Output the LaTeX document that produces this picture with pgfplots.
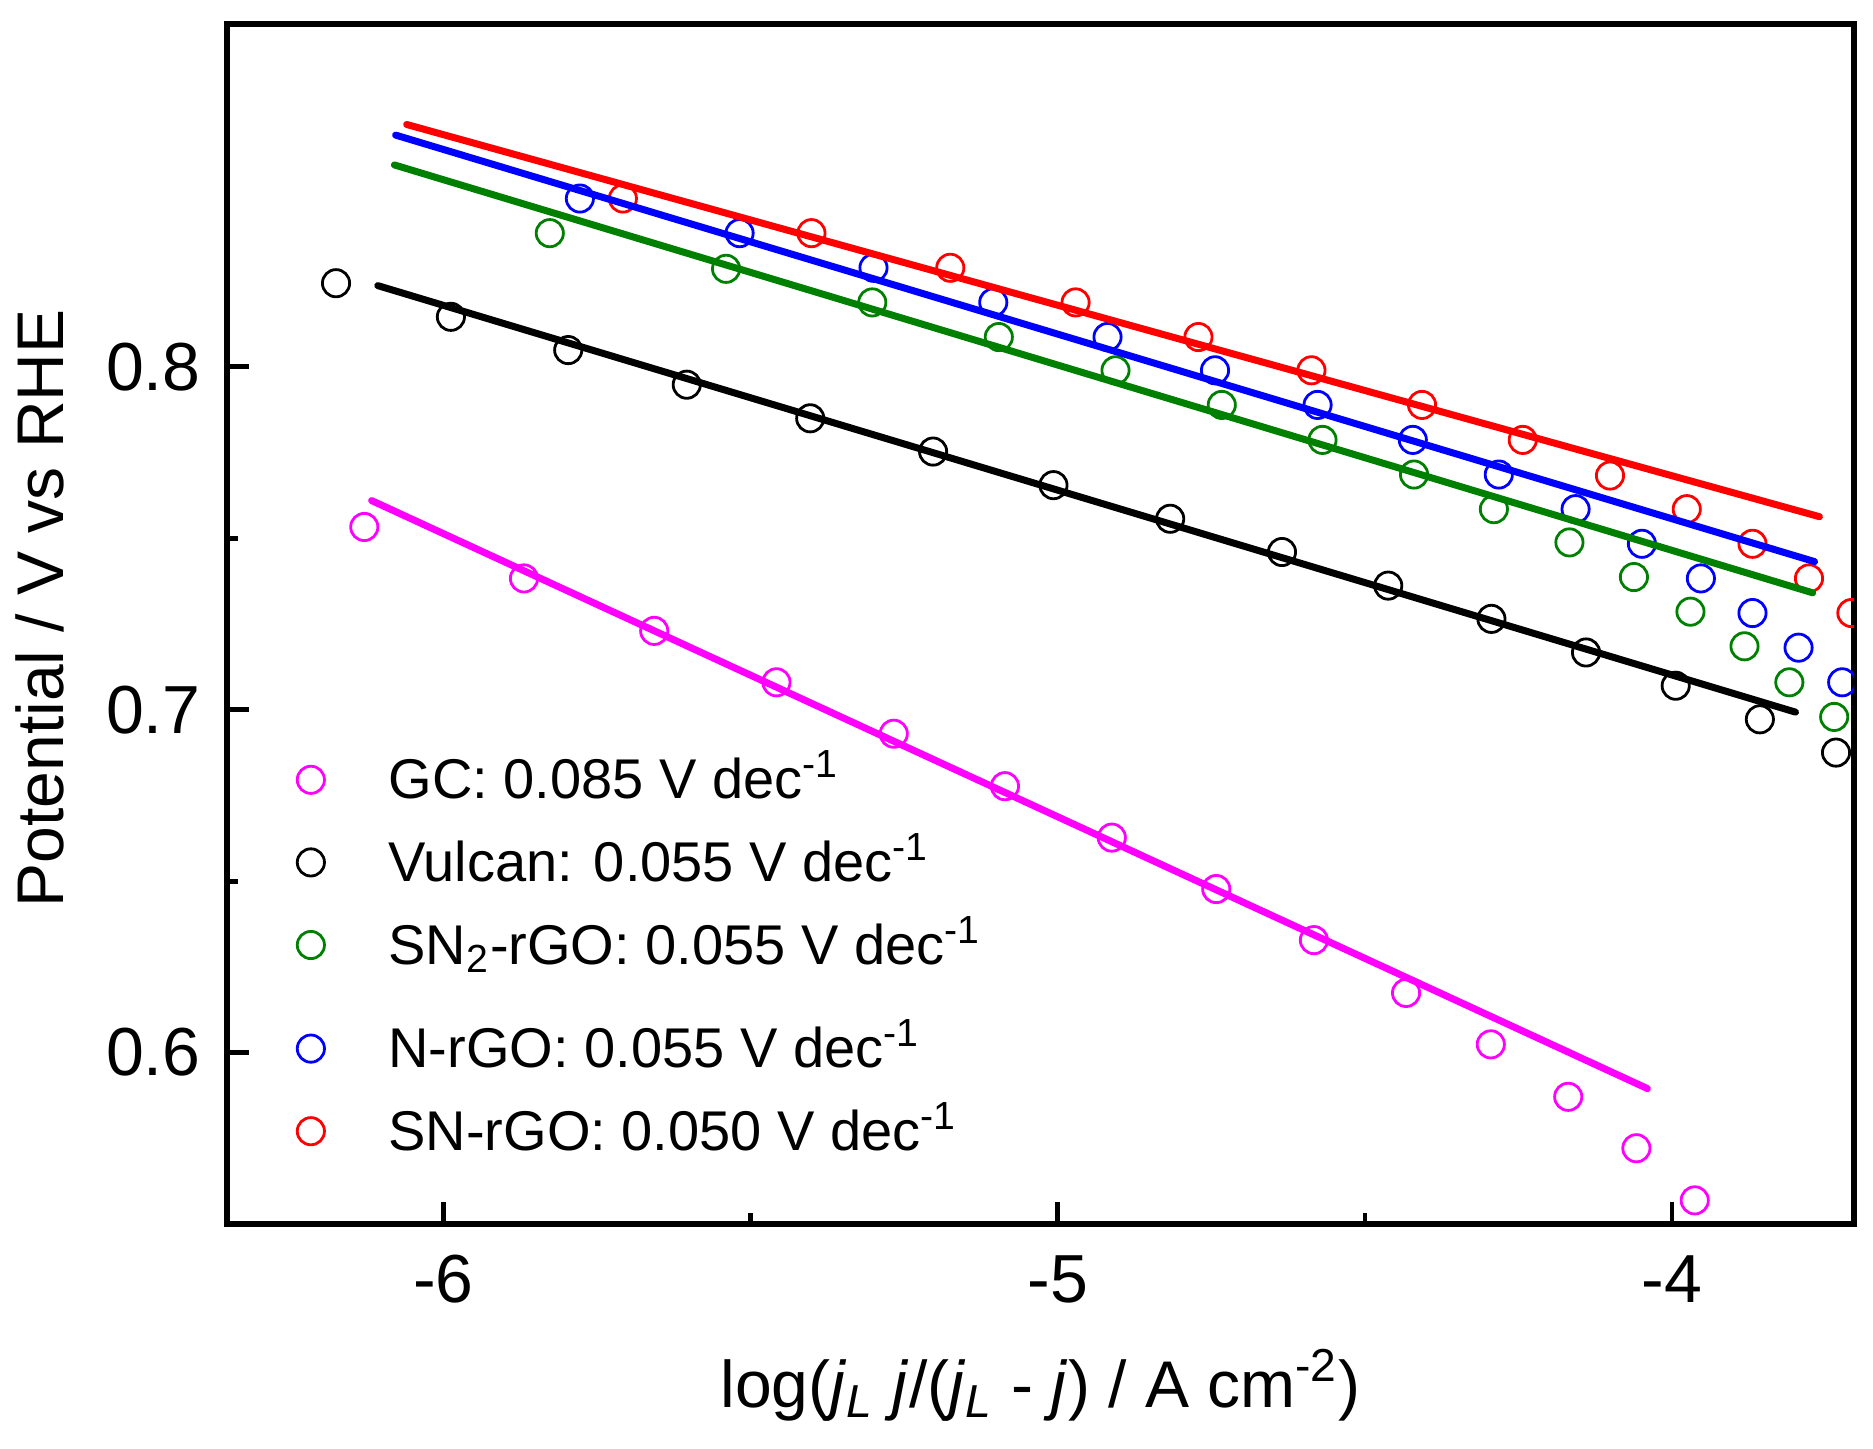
\documentclass[border=0pt]{standalone}
\usepackage{pgfplots}
\pgfplotsset{compat=1.18}
\usepackage{fontspec}
\setmainfont{Liberation Sans}
\definecolor{cmag}{RGB}{255,0,255}
\definecolor{cgreen}{RGB}{0,128,0}
\definecolor{cblue}{RGB}{0,0,255}
\definecolor{cred}{RGB}{255,0,0}
\pgfplotsset{
  mk/.style={only marks, mark=o, mark size=3.4pt, mark options={line width=0.7pt, solid},
    color=#1,
    legend image code/.code={\draw[##1] plot coordinates {(0pt,-0.5pt)};}},
  mkdeep/.style={legend image code/.code={\path[draw=none,fill=none] (0pt,-12pt) -- (0pt,0pt); \draw[##1] plot coordinates {(0pt,-0.5pt)};}},
  fit/.style={no marks, color=#1, line width=1.75pt, line cap=round, forget plot},
}
\begin{document}
\begin{tikzpicture}
\begin{axis}[
  at={(0,0)}, anchor=south west,
  scale only axis, width=406.75pt, height=300pt,
  xmin=-6.3525, xmax=-3.7037, ymin=0.55, ymax=0.9,
  xtick={-6,-5,-4}, ytick={0.6,0.7,0.8},
  minor x tick num=1, minor y tick num=1,
  tick pos=left, tick align=inside,
  major tick length=5.5pt, minor tick length=2.75pt,
  every tick/.style={black, line width=1.2pt},
  axis line style={line width=1.6pt},
  clip marker paths=true,
  /pgf/number format/assume math mode=true,
  ticklabel style={font=\fontsize{17}{20}\selectfont},
  xticklabel style={anchor=base, yshift=-19.5pt},
  yticklabel style={anchor=east, inner xsep=0pt, xshift=-6.4pt,
    /pgf/number format/fixed, /pgf/number format/fixed zerofill, /pgf/number format/precision=1},
  xlabel={log(\textit{j}\textsubscript{\textit{L}} \textit{j}/(\textit{j}\textsubscript{\textit{L}} - \textit{j}) / A cm\textsuperscript{-2})},
  ylabel={Potential / V vs RHE},
  xlabel style={at={(axis description cs:0.5,-0.1525)}, anchor=base, font=\fontsize{16.5}{20}\selectfont},
  ylabel style={at={(axis description cs:-0.1149,0.513)}, anchor=center, font=\fontsize{16.5}{20}\selectfont},
  legend style={at={(axis description cs:0.0427,0.395)}, anchor=north west, draw=none, fill=none,
    inner sep=0pt, row sep=7.15pt, column sep=16pt, font=\fontsize{14}{16.8}\selectfont,
    nodes={inner xsep=0pt, inner ysep=0pt, text height=12pt}},
  legend cell align=left,
]
% markers
\addplot[mk=cmag] coordinates {
(-6.129,0.7533) (-5.869,0.7383) (-5.657,0.7230) (-5.458,0.7080) (-5.267,0.6930)
(-5.086,0.6777) (-4.912,0.6627) (-4.742,0.6477) (-4.583,0.6328) (-4.433,0.6174)
(-4.295,0.6024) (-4.169,0.5871) (-4.058,0.5721) (-3.963,0.5569)};
\addlegendentry{GC: 0.085 V dec\textsuperscript{-1}}
\addplot[mk=black] coordinates {
(-6.175,0.8244) (-5.988,0.8146) (-5.797,0.8049) (-5.604,0.7948) (-5.403,0.7850)
(-5.203,0.7753) (-5.007,0.7655) (-4.817,0.7557) (-4.635,0.7460) (-4.462,0.7362)
(-4.294,0.7265) (-4.140,0.7167) (-3.994,0.7070) (-3.857,0.6972) (-3.733,0.6875)};
\addlegendentry{Vulcan: 0.055 V dec\textsuperscript{-1}}
\addplot[mk=cgreen, mkdeep] coordinates {
(-5.827,0.8390) (-5.540,0.8286) (-5.302,0.8188) (-5.096,0.8087) (-4.906,0.7990)
(-4.733,0.7889) (-4.569,0.7787) (-4.420,0.7686) (-4.290,0.7585) (-4.167,0.7488)
(-4.062,0.7387) (-3.970,0.7286) (-3.882,0.7185) (-3.809,0.7080) (-3.736,0.6979)};
\addlegendentry{SN\textsubscript{2}-rGO: 0.055 V dec\textsuperscript{-1}}
\addplot[mk=cblue] coordinates {
(-5.778,0.8491) (-5.518,0.8390) (-5.300,0.8289) (-5.105,0.8188) (-4.919,0.8087)
(-4.744,0.7990) (-4.577,0.7889) (-4.422,0.7787) (-4.282,0.7686) (-4.157,0.7585)
(-4.049,0.7484) (-3.953,0.7383) (-3.869,0.7282) (-3.794,0.7181) (-3.723,0.7080)};
\addlegendentry{N-rGO: 0.055 V dec\textsuperscript{-1}}
\addplot[mk=cred] coordinates {
(-5.708,0.8491) (-5.401,0.8390) (-5.175,0.8289) (-4.971,0.8188) (-4.771,0.8087)
(-4.587,0.7990) (-4.407,0.7889) (-4.243,0.7787) (-4.101,0.7683) (-3.976,0.7585)
(-3.869,0.7484) (-3.777,0.7383) (-3.708,0.7282)};
\addlegendentry{SN-rGO: 0.050 V dec\textsuperscript{-1}}
% fitted lines
\addplot[fit=cmag] coordinates {(-6.117,0.7610) (-4.040,0.5895)};
\addplot[fit=black] coordinates {(-6.107,0.8237) (-3.799,0.6993)};
\addplot[fit=cgreen] coordinates {(-6.080,0.8589) (-3.771,0.7341)};
\addplot[fit=cblue] coordinates {(-6.078,0.8676) (-3.768,0.7432)};
\addplot[fit=cred] coordinates {(-6.060,0.8707) (-3.760,0.7563)};
\end{axis}
\pgfresetboundingbox
\path (-56.75pt,-56pt) rectangle (411.5pt,306pt);
\end{tikzpicture}
\end{document}
